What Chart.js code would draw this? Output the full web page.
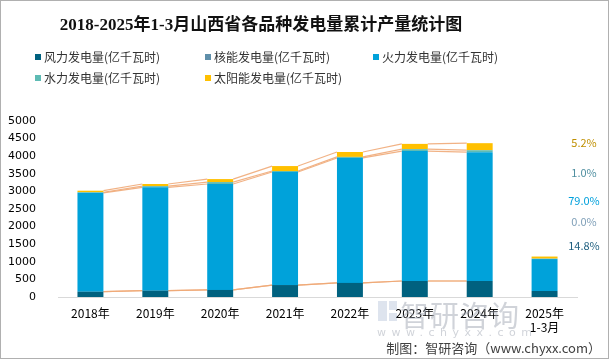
<!DOCTYPE html>
<html>
<head>
<meta charset="utf-8">
<script src="https://cdn.jsdelivr.net/npm/chart.js@4.4.0/dist/chart.umd.min.js"></script>
<style>
  body { margin: 0; background: #fff; }
  #wrap { position: relative; width: 609px; height: 359px; overflow: hidden; font-family: 'Noto Sans CJK SC', sans-serif; }
  #frame { position: absolute; left: 0; top: 0; width: 609px; height: 359px; box-sizing: border-box; border: 1px solid #b0b0b0; pointer-events: none; }
  #title { position: absolute; left: 0; width: 522px; top: 10px; text-align: center; font-family: 'Liberation Serif', 'Noto Sans CJK SC', serif; font-weight: bold; font-size: 17px; color: #111; }
  .lg { position: absolute; font-size: 12px; color: #333; line-height: 14px; white-space: nowrap; }
  .lg i { display: inline-block; width: 6px; height: 6px; margin-right: 3px; vertical-align: 2px; }
  .pct { position: absolute; left: 558px; width: 52px; text-align: center; font-size: 11px; line-height: 12px; }
  #wm1 { position: absolute; left: 400px; top: 293px; font-size: 29px; color: rgba(150,158,170,0.45); letter-spacing: 1px; }
  #wm2 { position: absolute; left: 377px; top: 326px; font-size: 11px; color: rgba(150,158,170,0.45); letter-spacing: 5.5px; font-family: 'DejaVu Sans', sans-serif; }
  .logo { position: absolute; background: rgba(160,178,205,0.35); }
  #src { position: absolute; right: 8px; top: 338px; font-size: 13px; color: #404040; }
</style>
</head>
<body>
<div id="wrap">
  <canvas id="c" width="609" height="359"></canvas>
  <div id="title">2018-2025年1-3月山西省各品种发电量累计产量统计图</div>
  <div id="legend"></div>
  <div id="pcts"></div>
  <div class="logo" style="left:378px;top:301px;width:9px;height:20px"></div>
  <div class="logo" style="left:389px;top:301px;width:8px;height:9px"></div>
  <div class="logo" style="left:389px;top:313px;width:8px;height:8px"></div>
  <div id="wm1">智研咨询</div>
  <div id="wm2">www.chyxx.com</div>
  <div id="src">制图：智研咨询（www.chyxx.com）</div>
  <div id="frame"></div>
</div>
<script>
// === DATA ===
const years = ['2018年', '2019年', '2020年', '2021年', '2022年', '2023年', '2024年', ['2025年', '1-3月']];
const seriesNames = ['风力发电量(亿千瓦时)', '核能发电量(亿千瓦时)', '火力发电量(亿千瓦时)', '水力发电量(亿千瓦时)', '太阳能发电量(亿千瓦时)'];
const wind    = [150, 180, 200, 340, 400, 455, 455, 170];
const nuclear = [0, 0, 0, 0, 0, 0, 0, 0];
const thermal = [2810, 2935, 3010, 3210, 3550, 3690, 3660, 908];
const water   = [15, 35, 55, 30, 30, 55, 55, 11.5];
const solar   = [45, 60, 85, 140, 140, 150, 200, 60];
const yTicks  = [0, 500, 1000, 1500, 2000, 2500, 3000, 3500, 4000, 4500, 5000];

const colors = ['#00617f', '#5f8faa', '#00a2da', '#5ebbb4', '#ffc000'];
const pctColors = ['#1f5f7f', '#7f9fb8', '#00a0dc', '#4f8fa0', '#bf8f00'];
const seriesData = [wind, nuclear, thermal, water, solar];

// legend (3 columns grid like the original)
const legendPos = [[35, 50], [205, 50], [373, 50], [35, 71], [205, 71]];
const legendEl = document.getElementById('legend');
seriesNames.forEach((n, i) => {
  const d = document.createElement('div');
  d.className = 'lg';
  d.style.left = legendPos[i][0] + 'px';
  d.style.top = legendPos[i][1] + 'px';
  d.innerHTML = `<i style="background:${colors[i]}"></i>${n}`;
  legendEl.appendChild(d);
});

// share of each source in the last period
const last = years.length - 1;
const total = seriesData.reduce((s, arr) => s + arr[last], 0);
const pctTop = [239, 215, 194, 166, 136]; // wind, nuclear, thermal, water, solar
const pctEl = document.getElementById('pcts');
seriesData.forEach((arr, i) => {
  const d = document.createElement('div');
  d.className = 'pct';
  d.style.top = pctTop[i] + 'px';
  d.style.color = pctColors[i];
  d.textContent = (arr[last] / total * 100).toFixed(1) + '%';
  pctEl.appendChild(d);
});

// Excel-style series lines between neighbouring bars (not into the partial year)
const seriesLines = {
  id: 'seriesLines',
  beforeDatasetsDraw(chart) {
    const ctx = chart.ctx;
    ctx.save();
    ctx.strokeStyle = 'rgba(240,170,120,0.9)';
    ctx.lineWidth = 1.2;
    chart.data.datasets.forEach((ds, di) => {
      const meta = chart.getDatasetMeta(di);
      for (let i = 0; i < meta.data.length - 2; i++) {
        const a = meta.data[i], b = meta.data[i + 1];
        ctx.beginPath();
        ctx.moveTo(a.x + a.width / 2, a.y);
        ctx.lineTo(b.x - b.width / 2, b.y);
        ctx.stroke();
      }
    });
    ctx.restore();
  }
};

const ctx = document.getElementById('c').getContext('2d');
new Chart(ctx, {
  type: 'bar',
  data: {
    labels: years,
    datasets: seriesNames.map((n, i) => ({
      label: n,
      data: seriesData[i],
      backgroundColor: colors[i],
      borderWidth: 0,
      barPercentage: 0.8,
      categoryPercentage: 0.5
    }))
  },
  options: {
    responsive: false,
    animation: false,
    layout: { padding: { top: 121, right: 32, left: 0, bottom: 0 } },
    plugins: {
      legend: { display: false },
      tooltip: { enabled: false }
    },
    scales: {
      x: {
        stacked: true,
        grid: { display: false },
        border: { display: true, color: '#d9d9d9', width: 1 },
        ticks: { color: '#000', font: { size: 12, family: "'Noto Sans CJK SC'" }, padding: 1, maxRotation: 0, autoSkip: false },
        afterFit: s => { s.height = 62; }
      },
      y: {
        stacked: true,
        min: 0,
        max: 5000,
        grid: { display: false },
        border: { display: false },
        afterBuildTicks: s => { s.ticks = yTicks.map(v => ({ value: v })); },
        ticks: { color: '#000', font: { size: 11, family: "'DejaVu Sans'" }, padding: 14, callback: v => String(v) },
        afterFit: s => { s.width = 58; }
      }
    }
  },
  plugins: [seriesLines]
});
</script>
</body>
</html>
